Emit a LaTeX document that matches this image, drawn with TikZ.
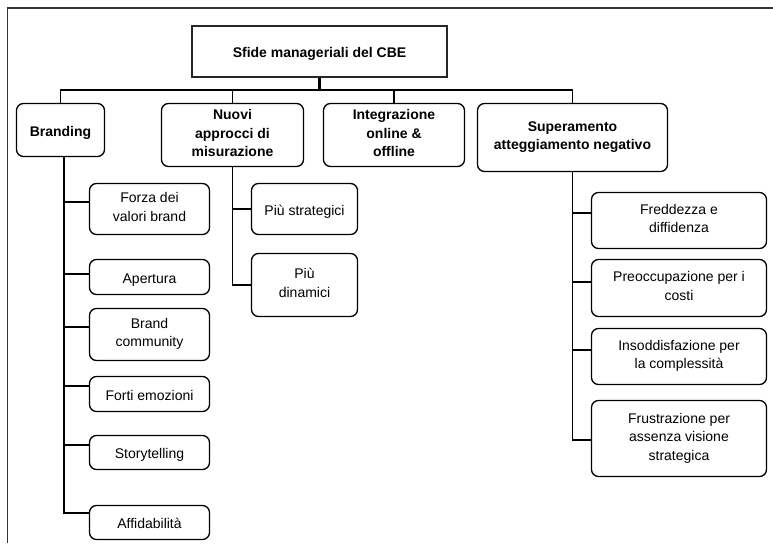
\documentclass[tikz,border=0pt]{standalone}
\usepackage{fontspec}
\setmainfont{Liberation Sans}
\begin{document}
\begin{tikzpicture}[x=1pt,y=-1pt,
  txt/.style={align=center, inner sep=0pt,
    execute at begin node={\rule{0pt}{16.5pt}},
    execute at end node={\rule[-4pt]{0pt}{4pt}}},
  box/.style={txt, draw=black, rounded corners=7pt, line width=1.3pt,
    font=\fontsize{14}{18.5}\selectfont},
  bbox/.style={box, font=\fontsize{14}{18.5}\selectfont\bfseries},
  rootbox/.style={txt, draw=black!85, line width=1.4pt,
    font=\fontsize{14}{18.5}\selectfont\bfseries},
  conn/.style={line width=1.4pt, black},
  stem/.style={line width=1.8pt, black},
  framecol/.style={draw=black!80, line width=1.6pt}]
\useasboundingbox (0,0) rectangle (773,543);
% frame
\draw[framecol] (7.3,543) -- (7.3,8.3) -- (773,8.3);
% root
\node[rootbox, minimum width=255, minimum height=51] (root) at (319.5,51.5) {Sfide manageriali del CBE};
% level 1
\node[bbox, minimum width=88, minimum height=53] (brand) at (60.5,130) {Branding};
\node[bbox, minimum width=142, minimum height=63] (nuovi) at (232.5,135) {Nuovi\\approcci di\\misurazione};
\node[bbox, minimum width=141, minimum height=63] (integr) at (394,135) {Integrazione\\online \&\\offline};
\node[bbox, minimum width=190, minimum height=68] (sup) at (572.5,137.5) {Superamento\\atteggiamento negativo};
% branding children
\node[box, minimum width=120, minimum height=51] (forza) at (149.5,209) {Forza dei\\valori brand};
\node[box, minimum width=120, minimum height=35] (apert) at (149.5,277) {Apertura};
\node[box, minimum width=120, minimum height=52] (bcomm) at (149.5,334.5) {Brand\\community};
\node[box, minimum width=120, minimum height=35] (forti) at (149.5,394) {Forti emozioni};
\node[box, minimum width=120, minimum height=34] (story) at (149.5,452.5) {Storytelling};
\node[box, minimum width=120, minimum height=34] (affid) at (149.5,522.5) {Affidabilità};
% nuovi children
\node[box, minimum width=106, minimum height=51] (strat) at (304.5,209) {Più strategici};
\node[box, minimum width=106, minimum height=63] (dinam) at (304.5,285) {Più\\dinamici};
% superamento children
\node[box, minimum width=175, minimum height=56] (fredd) at (679,220.5) {Freddezza e\\diffidenza};
\node[box, minimum width=175, minimum height=57] (preocc) at (679,288) {Preoccupazione per i\\costi};
\node[box, minimum width=175, minimum height=56] (insodd) at (679,356.5) {Insoddisfazione per\\la complessità};
\node[box, minimum width=175, minimum height=76] (frustr) at (679,438.5) {Frustrazione per\\assenza visione\\strategica};
% root to bus
\coordinate (bus) at (319.5,90);
\draw[line width=2.4pt] (root.south) -- (bus);
\draw[conn] (brand.north) -- (brand.north |- bus) -- (sup.north |- bus) -- (sup.north);
\draw[conn] (nuovi.north) -- (nuovi.north |- bus);
\draw[conn] (integr.north) -- (integr.north |- bus);
% branding stem
\draw[stem] ([xshift=3.5pt]brand.south) |- ([yshift=7pt]forza.west);
\draw[stem] ([xshift=3.5pt]brand.south) |- ([yshift=3pt]apert.west);
\draw[stem] ([xshift=3.5pt]brand.south) |- ([yshift=7.5pt]bcomm.west);
\draw[stem] ([xshift=3.5pt]brand.south) |- ([yshift=8pt]forti.west);
\draw[stem] ([xshift=3.5pt]brand.south) |- ([yshift=7.5pt]story.west);
\draw[stem] ([xshift=3.5pt]brand.south) |- ([yshift=9.5pt]affid.west);
% nuovi stem
\draw[stem] (nuovi.south) |- (strat.west);
\draw[stem] (nuovi.south) |- (dinam.west);
% superamento stem
\draw[stem] (sup.south) |- ([yshift=7.5pt]fredd.west);
\draw[stem] (sup.south) |- ([yshift=6pt]preocc.west);
\draw[stem] (sup.south) |- ([yshift=6.5pt]insodd.west);
\draw[stem] (sup.south) |- ([yshift=-1.5pt]frustr.west);
\end{tikzpicture}
\end{document}
